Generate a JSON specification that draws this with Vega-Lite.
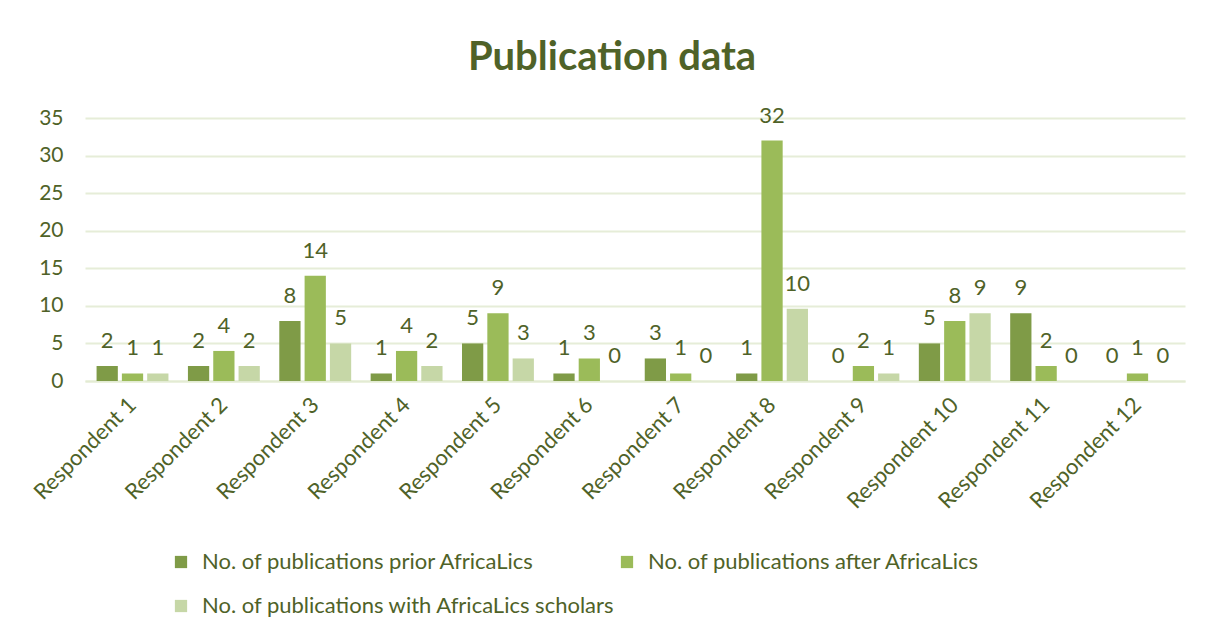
{
  "$schema": "https://vega.github.io/schema/vega-lite/v6.json",
  "width": 1100,
  "height": 263,
  "autosize": {"type": "none"},
  "padding": {"left": 85, "top": 118, "right": 21, "bottom": 252},
  "background": "white",
  "title": {
    "text": "Publication data",
    "font": "Lato",
    "fontSize": 40,
    "fontWeight": "bold",
    "color": "#4F6228",
    "anchor": "middle",
    "dx": -23,
    "offset": 27
  },
  "data": {
    "values": [
      {"respondent": "Respondent 1", "series": "No. of publications prior AfricaLics", "value": 2},
      {"respondent": "Respondent 1", "series": "No. of publications after AfricaLics", "value": 1},
      {"respondent": "Respondent 1", "series": "No. of publications with AfricaLics scholars", "value": 1},
      {"respondent": "Respondent 2", "series": "No. of publications prior AfricaLics", "value": 2},
      {"respondent": "Respondent 2", "series": "No. of publications after AfricaLics", "value": 4},
      {"respondent": "Respondent 2", "series": "No. of publications with AfricaLics scholars", "value": 2},
      {"respondent": "Respondent 3", "series": "No. of publications prior AfricaLics", "value": 8},
      {"respondent": "Respondent 3", "series": "No. of publications after AfricaLics", "value": 14},
      {"respondent": "Respondent 3", "series": "No. of publications with AfricaLics scholars", "value": 5},
      {"respondent": "Respondent 4", "series": "No. of publications prior AfricaLics", "value": 1},
      {"respondent": "Respondent 4", "series": "No. of publications after AfricaLics", "value": 4},
      {"respondent": "Respondent 4", "series": "No. of publications with AfricaLics scholars", "value": 2},
      {"respondent": "Respondent 5", "series": "No. of publications prior AfricaLics", "value": 5},
      {"respondent": "Respondent 5", "series": "No. of publications after AfricaLics", "value": 9},
      {"respondent": "Respondent 5", "series": "No. of publications with AfricaLics scholars", "value": 3},
      {"respondent": "Respondent 6", "series": "No. of publications prior AfricaLics", "value": 1},
      {"respondent": "Respondent 6", "series": "No. of publications after AfricaLics", "value": 3},
      {"respondent": "Respondent 6", "series": "No. of publications with AfricaLics scholars", "value": 0},
      {"respondent": "Respondent 7", "series": "No. of publications prior AfricaLics", "value": 3},
      {"respondent": "Respondent 7", "series": "No. of publications after AfricaLics", "value": 1},
      {"respondent": "Respondent 7", "series": "No. of publications with AfricaLics scholars", "value": 0},
      {"respondent": "Respondent 8", "series": "No. of publications prior AfricaLics", "value": 1},
      {"respondent": "Respondent 8", "series": "No. of publications after AfricaLics", "value": 32},
      {"respondent": "Respondent 8", "series": "No. of publications with AfricaLics scholars", "value": 9.6},
      {"respondent": "Respondent 9", "series": "No. of publications prior AfricaLics", "value": 0},
      {"respondent": "Respondent 9", "series": "No. of publications after AfricaLics", "value": 2},
      {"respondent": "Respondent 9", "series": "No. of publications with AfricaLics scholars", "value": 1},
      {"respondent": "Respondent 10", "series": "No. of publications prior AfricaLics", "value": 5},
      {"respondent": "Respondent 10", "series": "No. of publications after AfricaLics", "value": 8},
      {"respondent": "Respondent 10", "series": "No. of publications with AfricaLics scholars", "value": 9},
      {"respondent": "Respondent 11", "series": "No. of publications prior AfricaLics", "value": 9},
      {"respondent": "Respondent 11", "series": "No. of publications after AfricaLics", "value": 2},
      {"respondent": "Respondent 11", "series": "No. of publications with AfricaLics scholars", "value": 0},
      {"respondent": "Respondent 12", "series": "No. of publications prior AfricaLics", "value": 0},
      {"respondent": "Respondent 12", "series": "No. of publications after AfricaLics", "value": 1},
      {"respondent": "Respondent 12", "series": "No. of publications with AfricaLics scholars", "value": 0}
    ]
  },
  "encoding": {
    "x": {
      "field": "respondent",
      "type": "nominal",
      "sort": null,
      "scale": {"paddingInner": 0.18, "paddingOuter": 0.11},
      "axis": {
        "title": null,
        "labelAngle": -45,
        "labelAlign": "right",
        "labelBaseline": "middle",
        "labelFont": "Lato",
        "labelFontSize": 22,
        "labelColor": "#4F6228",
        "labelPadding": 20,
        "ticks": false,
        "domain": true,
        "domainColor": "#E3EBD3",
        "domainWidth": 2,
        "grid": false
      }
    },
    "xOffset": {
      "field": "series",
      "type": "nominal",
      "sort": null,
      "scale": {"paddingInner": 0.16, "paddingOuter": 0.06}
    },
    "y": {
      "field": "value",
      "type": "quantitative",
      "scale": {"domain": [0, 35]},
      "axis": {
        "title": null,
        "values": [0, 5, 10, 15, 20, 25, 30, 35],
        "labelFont": "Lato",
        "labelFontSize": 21,
        "labelColor": "#4F6228",
        "labelPadding": 22,
        "ticks": false,
        "domain": false,
        "gridColor": "#E6EDD8",
        "gridWidth": 2
      }
    }
  },
  "layer": [
    {
      "mark": {"type": "bar"},
      "encoding": {
        "color": {
          "field": "series",
          "type": "nominal",
          "sort": null,
          "scale": {"range": ["#7F9B47", "#9BBB59", "#C6D7A7"]},
          "legend": {
            "title": null,
            "orient": "none",
            "direction": "horizontal",
            "legendX": 85,
            "legendY": 433,
            "columns": 2,
            "gridAlign": "none",
            "columnPadding": 0,
            "rowPadding": 22,
            "symbolType": "square",
            "symbolSize": 150,
            "symbolStrokeWidth": 0,
            "labelFont": "Lato",
            "labelFontSize": 22,
            "labelColor": "#4F6228",
            "labelLimit": 600,
            "labelOffset": 10
          }
        }
      }
    },
    {
      "mark": {"type": "text", "baseline": "bottom", "dy": -13, "font": "Lato", "fontSize": 22, "color": "#4F6228"},
      "encoding": {
        "text": {"field": "value", "type": "quantitative", "format": ".0f"}
      }
    }
  ],
  "config": {
    "view": {"stroke": null}
  }
}
